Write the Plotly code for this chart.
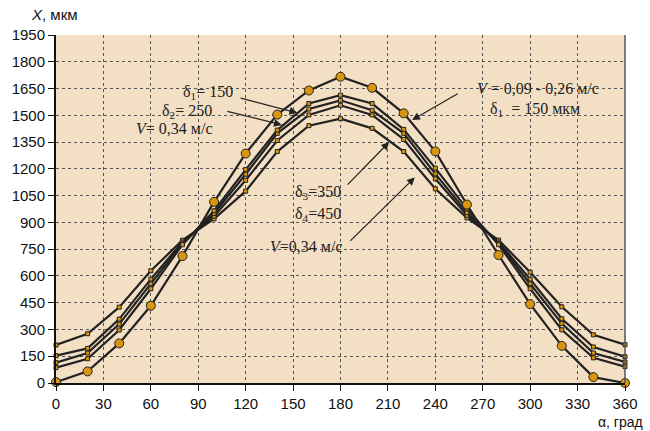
import plotly.graph_objects as go

alpha = [0, 20, 40, 60, 80, 100, 120, 140, 160, 180, 200, 220, 240, 260, 280, 300, 320, 340, 360]

# V = 0.09-0.26 m/s, delta1 = 150 (big markers)
x_big = [5, 65, 222, 433, 711, 1015, 1286, 1504, 1639, 1716, 1654, 1511, 1298, 1000, 717, 442, 208, 33, 0]
# V = 0.34 m/s curves
x_a = [86, 136, 297, 528, 775, 965, 1196, 1417, 1566, 1613, 1566, 1421, 1204, 976, 775, 528, 298, 141, 92]
x_b = [114, 168, 330, 556, 783, 950, 1170, 1399, 1535, 1584, 1528, 1399, 1172, 955, 783, 556, 333, 168, 118]
x_c = [153, 194, 358, 582, 790, 935, 1136, 1359, 1502, 1556, 1502, 1365, 1144, 940, 790, 582, 360, 202, 148]
x_d = [213, 276, 425, 629, 800, 920, 1075, 1297, 1442, 1481, 1427, 1297, 1088, 925, 801, 621, 427, 270, 215]

x_ticks = list(range(0, 361, 30))
y_ticks = list(range(0, 1951, 150))

LINE = "#222222"
ORANGE = "#D9950F"
BG = "#F3DFC4"

fig = go.Figure()
for ys in [x_d, x_c, x_b, x_a]:
    fig.add_trace(go.Scatter(
        x=alpha, y=ys, mode="lines+markers",
        line=dict(color=LINE, width=2.2),
        marker=dict(symbol="square", size=4, color=ORANGE, line=dict(color=LINE, width=1)),
        cliponaxis=False, showlegend=False))
fig.add_trace(go.Scatter(
    x=alpha, y=x_big, mode="lines+markers",
    line=dict(color=LINE, width=2.2),
    marker=dict(symbol="circle", size=9, color=ORANGE, line=dict(color=LINE, width=1)),
    cliponaxis=False, showlegend=False))

tickfont = dict(family="Liberation Sans, Arial, sans-serif", size=15, color="#111")
fig.update_xaxes(range=[0, 360], tickvals=x_ticks, showgrid=True, gridcolor="#555",
                 griddash="dot", gridwidth=1, showline=True, linecolor="#111", linewidth=2,
                 ticks="outside", ticklen=6, tickcolor="#111", tickfont=tickfont, zeroline=False)
fig.update_yaxes(range=[0, 1950], tickvals=y_ticks, showgrid=True, gridcolor="#555",
                 griddash="dot", gridwidth=1, showline=True, linecolor="#111", linewidth=2,
                 ticks="outside", ticklen=6, tickcolor="#111", tickfont=tickfont, zeroline=False)

serif = dict(family="Liberation Serif, Times New Roman, serif", size=16, color="#222")
ann = []
# text labels
ann.append(dict(x=113, y=1630, text="δ<sub>1</sub>= 150", xanchor="right", yanchor="middle", showarrow=False, font=serif))
ann.append(dict(x=100, y=1522, text="δ<sub>2</sub>= 250", xanchor="right", yanchor="middle", showarrow=False, font=serif))
ann.append(dict(x=100, y=1425, text="<i>V</i>= 0,34 м/с", xanchor="right", yanchor="middle", showarrow=False, font=serif))
ann.append(dict(x=305, y=1652, text="<i>V</i> = 0,09 - 0,26 м/с", xanchor="center", yanchor="middle", showarrow=False, font=serif))
ann.append(dict(x=303, y=1530, text="δ<sub>1</sub>  = 150 мкм", xanchor="center", yanchor="middle", showarrow=False, font=serif))
ann.append(dict(x=150, y=1065, text="δ<sub>3</sub>=350", xanchor="left", yanchor="middle", showarrow=False, font=serif))
ann.append(dict(x=150, y=942, text="δ<sub>4</sub>=450", xanchor="left", yanchor="middle", showarrow=False, font=serif))
ann.append(dict(x=134, y=763, text="<i>V</i>=0,34 м/с", xanchor="left", yanchor="middle", showarrow=False, font=serif))
# arrows
arrow = dict(showarrow=True, text="", arrowhead=2, arrowsize=1.3, arrowwidth=1.2, arrowcolor="#222")
ann.append(dict(x=152.6, y=1514, ax=-58, ay=-15, **arrow))
ann.append(dict(x=142.9, y=1446, ax=-56, ay=-14, **arrow))
ann.append(dict(x=225.3, y=1474, ax=47, ay=-27, **arrow))
ann.append(dict(x=210.8, y=1350, ax=-43, ay=44, **arrow))
ann.append(dict(x=227, y=1152, ax=-66, ay=65, **arrow))
# axis titles
ann.append(dict(xref="paper", yref="paper", x=-0.047, y=1.0575, text="<i>X</i>, мкм",
                xanchor="left", yanchor="middle", showarrow=False,
                font=dict(family="Liberation Sans, Arial, sans-serif", size=15, color="#111")))
ann.append(dict(xref="paper", yref="paper", x=1.035, y=-0.112, text="α, град",
                xanchor="right", yanchor="middle", showarrow=False,
                font=dict(family="Liberation Sans, Arial, sans-serif", size=14, color="#111")))

fig.update_layout(
    width=650, height=431,
    margin=dict(l=52, r=21, t=35, b=48),
    plot_bgcolor=BG, paper_bgcolor="white",
    annotations=ann,
    shapes=[dict(type="line", xref="paper", yref="paper", x0=1, x1=1, y0=0, y1=1,
                 line=dict(color="#555", width=1.5))],
)
fig.write_html("out.html")
